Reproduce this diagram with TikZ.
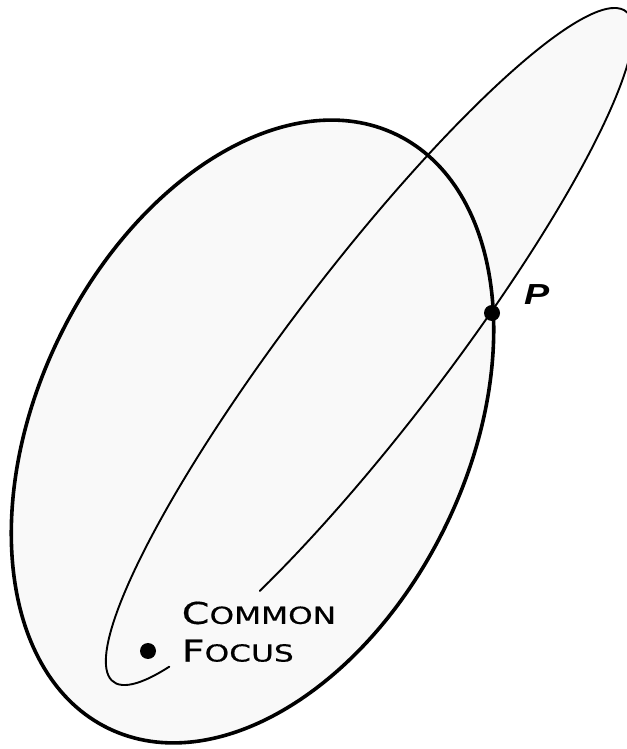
\documentclass[tikz,border=0pt]{standalone}
\usepackage{fontspec}
\usepackage{tikz}
\usetikzlibrary{positioning}
\newfontfamily\orbitfont[FakeStretch=1.33,FakeBold=0.5]{DejaVu Sans}
\newfontfamily\pointfont[FakeStretch=1.3]{Liberation Sans}
\definecolor{orbitgray}{gray}{0.975}
\newcommand{\smallcaps}[1]{{\fontsize{23.5}{28}\selectfont #1}}

\begin{document}
\begin{tikzpicture}[x=1pt,y=1pt,
    bigorbit/.style={line width=3.6pt},
    longorbit/.style={line width=1.9pt,line cap=round},
    dot/.style={circle,fill=black,inner sep=0pt,minimum size=16pt},
    focustext/.style={inner sep=0pt,font=\orbitfont\fontsize{30}{36}\selectfont}]
\useasboundingbox (0,0) rectangle (626,749);
% shaded insides of both orbits
\fill[orbitgray,shift={(252.5,317.5)},rotate=64.1] (0,0) ellipse [x radius=330pt,y radius=215pt];
\fill[orbitgray,shift={(369.5,402.5)},rotate=52.6] (0,0) ellipse [x radius=422pt,y radius=78pt];
% the two orbits
\draw[bigorbit,shift={(252.5,317.5)},rotate=64.1] (0,0) ellipse [x radius=330pt,y radius=215pt];
\draw[longorbit,shift={(369.5,402.5)},rotate=52.6]
    (231.8:422pt and 78pt) arc [start angle=231.8,end angle=567,x radius=422pt,y radius=78pt];
% points
\node[dot] (focus) at (148,98) {};
\node[dot] (p) at (492,436) {};
\node[inner sep=0pt,font=\pointfont\fontsize{29}{30}\selectfont\bfseries\itshape]
    (plabel) [above right=2pt and 26pt of p] {P};
\node[focustext] (lblcommon) [above right=20.7pt and 27.7pt of focus] {C\smallcaps{OMMON}};
\node[focustext,anchor=north west] (lblfocus) [below=15pt of lblcommon.south west,anchor=north west] {F\smallcaps{OCUS}};
\end{tikzpicture}
\end{document}
